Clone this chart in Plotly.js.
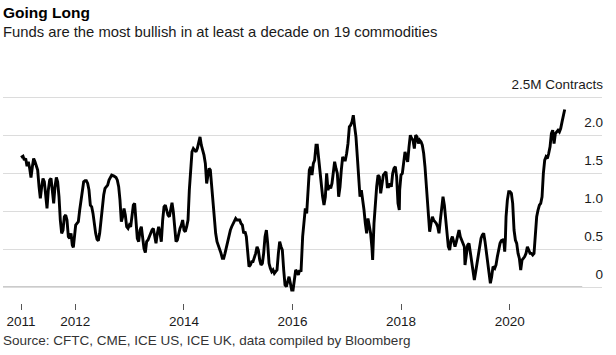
<!DOCTYPE html>
<html>
<head>
<meta charset="utf-8">
<script src="https://cdn.plot.ly/plotly-3.0.1.min.js"></script>
<style>
html,body{margin:0;padding:0;background:#fff;}
#chart{width:616px;height:355px;}
</style>
</head>
<body>
<div id="chart"></div>
<script>
// Net long positions across 19 commodities, million contracts (decimal year, value)
const years = [
2011.000,2011.037,2011.061,2011.086,2011.111,2011.135,2011.160,2011.184,2011.209,2011.233,2011.258,2011.282,2011.307,2011.332,2011.356,2011.381,2011.405,2011.430,2011.454,2011.479,2011.503,2011.528,2011.553,2011.577,2011.602,2011.626,2011.651,2011.675,2011.700,2011.724,2011.749,2011.774,2011.798,2011.823,2011.847,2011.872,2011.896,2011.921,2011.945,2011.964,2011.982,
2012.007,2012.031,2012.056,2012.081,2012.105,2012.130,2012.154,2012.179,2012.203,2012.228,2012.252,2012.277,2012.302,2012.326,2012.351,2012.375,2012.400,2012.424,2012.449,2012.473,2012.498,2012.523,2012.547,2012.572,2012.596,2012.621,2012.645,2012.670,2012.713,2012.750,2012.774,2012.799,2012.823,2012.848,2012.872,2012.897,2012.921,2012.946,2012.971,2012.995,
2013.020,2013.044,2013.069,2013.093,2013.118,2013.142,2013.167,2013.192,2013.216,2013.241,2013.265,2013.290,2013.314,2013.339,2013.363,2013.388,2013.413,2013.437,2013.462,2013.486,2013.511,2013.535,2013.560,2013.584,2013.609,2013.634,2013.658,2013.683,2013.707,2013.732,2013.756,2013.781,2013.805,2013.830,2013.855,2013.879,2013.904,2013.928,2013.953,2013.977,
2014.002,2014.026,2014.051,2014.076,2014.100,2014.125,2014.149,2014.174,2014.198,2014.223,2014.247,2014.272,2014.297,2014.321,2014.346,2014.370,2014.395,2014.419,2014.444,2014.463,2014.487,2014.512,2014.536,2014.561,2014.585,2014.610,2014.635,2014.659,2014.684,2014.708,2014.733,2014.757,2014.782,2014.806,2014.831,2014.856,2014.880,2014.905,2014.929,2014.954,2014.978,
2015.003,2015.027,2015.052,2015.077,2015.101,2015.126,2015.150,2015.175,2015.199,2015.224,2015.248,2015.273,2015.298,2015.322,2015.347,2015.371,2015.396,2015.420,2015.445,2015.469,2015.494,2015.519,2015.543,2015.568,2015.592,2015.617,2015.641,2015.666,2015.690,2015.715,2015.740,2015.764,2015.789,2015.813,2015.838,2015.862,2015.887,2015.911,2015.936,2015.961,2015.985,
2016.010,2016.034,2016.059,2016.083,2016.108,2016.132,2016.157,2016.187,2016.212,2016.236,2016.261,2016.285,2016.310,2016.334,2016.359,2016.384,2016.408,2016.433,2016.457,2016.482,2016.506,2016.531,2016.555,2016.580,2016.605,2016.629,2016.654,2016.678,2016.703,2016.727,2016.752,2016.776,2016.801,2016.826,2016.850,2016.875,2016.899,2016.924,2016.948,2016.973,2016.997,
2017.022,2017.047,2017.071,2017.096,2017.120,2017.145,2017.169,2017.194,2017.218,2017.243,2017.268,2017.292,2017.317,2017.341,2017.366,2017.390,2017.415,2017.439,2017.464,2017.476,2017.501,2017.525,2017.550,2017.575,2017.599,2017.624,2017.648,2017.673,2017.697,2017.722,2017.746,2017.771,2017.796,2017.820,2017.845,2017.869,2017.894,2017.918,2017.943,2017.967,2017.974,2017.998,
2018.023,2018.048,2018.072,2018.097,2018.121,2018.146,2018.170,2018.195,2018.219,2018.244,2018.269,2018.293,2018.318,2018.342,2018.367,2018.391,2018.416,2018.440,2018.465,2018.490,2018.514,2018.526,2018.551,2018.576,2018.600,2018.625,2018.649,2018.674,2018.698,2018.723,2018.747,2018.772,2018.797,2018.821,2018.846,2018.870,2018.895,2018.919,2018.944,2018.968,2018.993,
2019.018,2019.042,2019.067,2019.091,2019.116,2019.140,2019.165,2019.177,2019.202,2019.226,2019.251,2019.275,2019.300,2019.325,2019.349,2019.374,2019.398,2019.423,2019.447,2019.472,2019.496,2019.521,2019.546,2019.570,2019.595,2019.619,2019.644,2019.668,2019.693,2019.724,2019.748,2019.773,2019.798,2019.822,2019.847,2019.871,2019.896,2019.908,2019.920,2019.933,2019.957,2019.982,
2020.006,2020.031,2020.055,2020.080,2020.105,2020.129,2020.154,2020.178,2020.203,2020.227,2020.252,2020.276,2020.301,2020.326,2020.350,2020.375,2020.399,2020.424,2020.448,2020.473,2020.497,2020.522,2020.547,2020.571,2020.596,2020.620,2020.645,2020.669,2020.694,2020.718,2020.743,2020.768,2020.792,2020.817,2020.841,2020.866,2020.890,2020.915,2020.939,2020.964,2020.988,
2021.013
];
const netLong = [
1.711,1.728,1.675,1.697,1.596,1.654,1.566,1.447,1.588,1.697,1.654,1.610,1.544,1.325,1.171,1.325,1.434,1.390,1.237,1.039,1.281,1.412,1.434,1.281,1.105,1.325,1.447,1.390,1.193,0.886,0.711,0.754,0.930,0.952,0.886,0.667,0.645,0.711,0.557,0.526,0.667,
0.820,0.842,0.864,1.018,1.149,1.281,1.390,1.404,1.404,1.368,1.281,1.083,1.061,0.974,0.798,0.711,0.632,0.614,0.711,0.886,1.083,1.215,1.303,1.325,1.346,1.412,1.447,1.478,1.465,1.447,1.412,1.325,1.149,0.864,0.930,1.039,0.952,0.798,0.776,0.820,
0.798,0.930,1.083,1.105,0.886,0.645,0.601,0.754,0.798,0.623,0.513,0.456,0.601,0.623,0.667,0.732,0.754,0.776,0.645,0.579,0.711,0.798,0.711,0.601,0.886,1.061,1.083,1.018,0.952,0.930,1.039,1.114,0.996,0.798,0.601,0.623,0.711,0.776,0.820,0.886,
0.754,0.732,0.798,0.886,1.281,1.632,1.785,1.829,1.807,1.785,1.829,1.895,1.982,1.873,1.807,1.741,1.632,1.368,1.478,1.566,1.544,1.325,1.061,0.842,0.711,0.601,0.557,0.491,0.447,0.382,0.382,0.447,0.535,0.579,0.667,0.754,0.798,0.842,0.886,0.908,0.886,
0.886,0.886,0.842,0.820,0.711,0.732,0.667,0.447,0.272,0.294,0.338,0.338,0.382,0.447,0.535,0.491,0.360,0.294,0.316,0.447,0.667,0.754,0.579,0.316,0.250,0.206,0.228,0.184,0.206,0.228,0.447,0.601,0.535,0.491,0.228,0.031,0.009,0.075,0.140,0.053,-0.035,
-0.035,0.096,0.228,0.206,0.162,0.228,0.206,0.667,0.930,1.039,0.974,1.193,1.544,1.588,1.478,1.632,1.675,1.873,1.873,1.697,1.500,1.325,1.193,1.083,1.193,1.500,1.281,1.346,1.303,1.368,1.566,1.654,1.566,1.500,1.193,1.325,1.544,1.719,1.675,1.675,1.763,
1.895,2.114,2.136,2.180,2.268,2.114,1.982,1.719,1.412,1.193,1.281,1.171,1.018,0.842,0.711,0.908,0.798,0.711,0.513,0.360,0.842,1.105,1.325,1.478,1.456,1.237,1.368,1.478,1.500,1.522,1.325,1.325,1.368,1.325,1.500,1.566,1.588,1.456,1.105,1.018,1.281,1.478,
1.500,1.654,1.785,1.719,1.654,1.851,2.004,1.961,1.939,1.829,2.004,1.982,1.895,1.939,1.917,1.873,1.763,1.588,1.325,1.105,0.886,0.732,0.842,0.930,0.886,0.864,0.842,0.798,0.711,0.886,1.061,1.193,1.083,0.886,0.667,0.535,0.491,0.623,0.667,0.579,0.535,
0.601,0.667,0.754,0.667,0.623,0.579,0.535,0.294,0.404,0.557,0.579,0.447,0.338,0.184,0.096,0.206,0.316,0.404,0.535,0.645,0.689,0.711,0.601,0.447,0.316,0.162,0.053,0.140,0.272,0.250,0.294,0.404,0.491,0.579,0.614,0.623,0.579,0.469,0.623,0.930,1.149,1.259,
1.259,1.237,1.105,0.754,0.623,0.579,0.447,0.382,0.228,0.360,0.382,0.404,0.447,0.535,0.491,0.447,0.447,0.425,0.447,0.667,0.930,1.018,1.083,1.105,1.193,1.500,1.675,1.719,1.697,1.763,1.851,2.026,2.070,1.895,2.026,2.048,2.070,2.048,2.092,2.180,2.268,
2.342
];
const xTickVals = [2011, 2012, 2014, 2016, 2018, 2020];
const xTickText = ["2011", "2012", "2014", "2016", "2018", "2020"];
const yTickVals = [0, 0.5, 1.0, 1.5, 2.0, 2.5];
const yTickText = ["0", "0.5", "1.0", "1.5", "2.0", "2.5M Contracts"];

const FONT = "Liberation Sans, Arial, Helvetica, sans-serif";
// plot area: top at 287.3 - 2.85*76 = 70.7px, bottom at 303px
const PLOT_H = 303 - 70.7;

const trace = {
  x: years, y: netLong, type: "scatter", mode: "lines",
  line: {color: "#000000", width: 2.9, shape: "linear"},
  hoverinfo: "skip"
};

const layout = {
  width: 616, height: 355,
  margin: {l: 3, r: 14, t: 70.7, b: 52, pad: 0},
  paper_bgcolor: "#ffffff", plot_bgcolor: "#ffffff",
  showlegend: false,
  font: {family: FONT, color: "#1a1a1a"},
  title: {
    text: "<b>Going Long</b>",
    font: {family: FONT, size: 15.5, color: "#000000"},
    x: 3/616, xanchor: "left", xref: "container",
    y: 1 - 13/355, yanchor: "middle", yref: "container"
  },
  xaxis: {
    range: [2010.6685, 2021.700],
    tickmode: "array", tickvals: xTickVals, ticktext: xTickText,
    ticks: "outside", ticklen: 6, tickwidth: 1, tickcolor: "#555555",
    showgrid: false, zeroline: false, showline: false,
    tickfont: {family: FONT, size: 13.5, color: "#1a1a1a"}
  },
  yaxis: {
    range: [-0.207, 2.85], side: "right",
    tickmode: "array", tickvals: yTickVals, ticktext: yTickText,
    ticklabelposition: "inside top", ticklabelshift: -4, ticklabelstandoff: -4,
    ticks: "", showgrid: true, gridcolor: "#dcdcdc", gridwidth: 1,
    zeroline: false, showline: false,
    tickfont: {family: FONT, size: 13.5, color: "#1a1a1a"}
  },
  shapes: [
    {type: "line", xref: "paper", yref: "y", x0: 0, x1: 0.967, y0: 0, y1: 0,
     line: {color: "#333333", width: 1.2}, layer: "below"}
  ],
  annotations: [
    {text: "Funds are the most bullish in at least a decade on 19 commodities",
     xref: "paper", yref: "paper", x: 0, y: (355 - 31.5 - 52) / PLOT_H, xshift: -2,
     xanchor: "left", yanchor: "middle", showarrow: false,
     font: {family: FONT, size: 14.8, color: "#1a1a1a"}},
    {text: "Source: CFTC, CME, ICE US, ICE UK, data compiled by Bloomberg",
     xref: "paper", yref: "paper", x: 0, y: (355 - 341 - 52) / PLOT_H, xshift: -2,
     xanchor: "left", yanchor: "middle", showarrow: false,
     font: {family: FONT, size: 13.5, color: "#333333"}}
  ]
};

Plotly.newPlot("chart", [trace], layout, {displayModeBar: false, staticPlot: true});
</script>
</body>
</html>
